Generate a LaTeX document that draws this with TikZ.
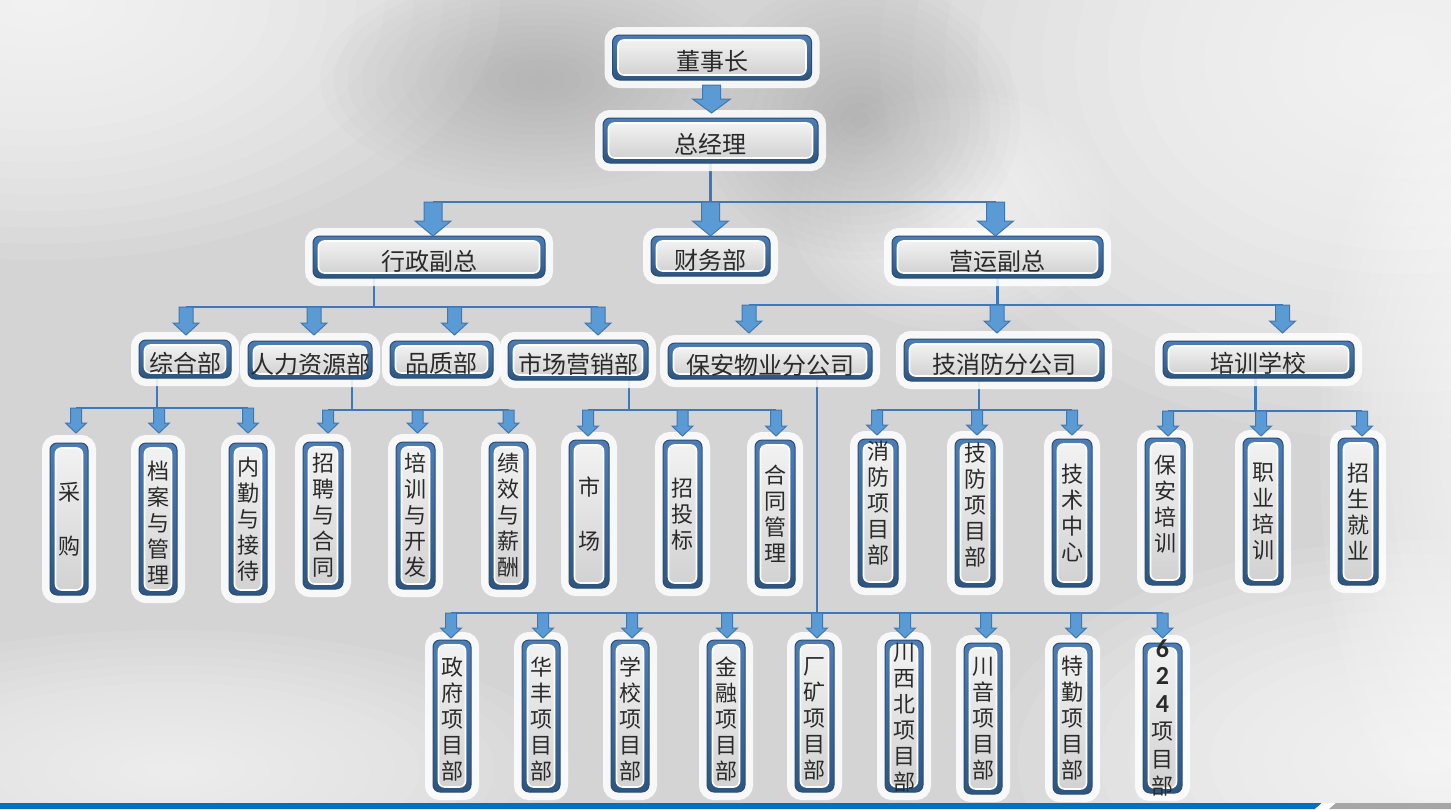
\documentclass[tikz,border=0pt]{standalone}
\usepackage{fontspec}
\setmainfont{Noto Sans CJK SC}
\newfontfamily\digf{Carlito}
\usetikzlibrary{calc}
\definecolor{bgc}{HTML}{D4D4D4}
\definecolor{bluetop}{HTML}{4C7DB6}
\definecolor{bluebot}{HTML}{2D557F}
\definecolor{blueedge}{HTML}{2A4D74}
\definecolor{ibtop}{HTML}{F2F2F2}
\definecolor{ibbot}{HTML}{D2D2D2}
\definecolor{txtc}{HTML}{2A2A2A}
\definecolor{arrf}{HTML}{5B9BD5}
\definecolor{arre}{HTML}{4177B0}
\definecolor{connc}{HTML}{3C78BC}
\definecolor{barblue}{HTML}{0070C0}
\definecolor{bargray}{HTML}{A6A6A6}
\definecolor{darkspot}{HTML}{9A9A9A}
\pgfdeclarelayer{bg}
\pgfdeclarelayer{lines}
\pgfsetlayers{bg,lines,main}
\tikzset{
 obox/.style={rectangle, rounded corners=3.5pt, top color=bluetop, bottom color=bluebot, draw=blueedge, line width=0.5pt, inner sep=0pt, outer sep=0pt, preaction={draw=white, draw opacity=0.85, line width=8pt}},
 ibox/.style={rectangle, rounded corners=3pt, top color=ibtop, bottom color=ibbot, draw=white, line width=0.8pt, inner sep=0pt, outer sep=0pt},
 txt/.style={inner sep=0pt, text=txtc},
 ht/.style={txt, font=\fontsize{12pt}{14pt}\selectfont, yshift=-2pt},
 vt/.style={txt, font=\fontsize{11pt}{13pt}\selectfont, align=center},
 barr/.style={fill=arrf, draw=arre, line width=0.5pt, line join=miter},
 conn/.style={draw=connc, line width=1.1pt},
}
\newcommand\mkbox[7][]{%
  \node[obox, minimum width=#5*0.5pt, minimum height=#6*0.5pt] (#2) at (#3,#4) {};
  \node[ibox, minimum width=(#5-11)*0.5pt, minimum height=(#6-10)*0.5pt] (#2-i) at (#2.center) {};
  \node[#1] (#2-t) at (#2.center) {#7};}
\newcommand\barrow[7]{%
  \coordinate (#1-a) at ($(#1.north)+(#2,-#3-#4)$);
  \path[barr] ($(#1.north)+(#2,-#3)$) -- ++({-#6/2},{-#7}) -- ++({(#6-#5)/2},0) -- ++(0,{#7-#4}) -- ++(#5,0) -- ++(0,{#4-#7}) -- ++({(#6-#5)/2},0) -- cycle;}
\newcommand\mkdrop[3]{%
  \coordinate (#1-d) at ($(#1.south)+(#2,0)$);
  \draw[conn] (#1-d) -- (#1-d |- #3-a);}
\newcommand\softblob[6]{%
  \foreach \k in {1,...,16} {\fill[#5, opacity=#6] (#1,#2) ellipse [x radius={#3*\k/16*1pt}, y radius={#4*\k/16*1pt}];}}
\begin{document}
\begin{tikzpicture}[x=0.5pt,y=-0.5pt]
\useasboundingbox (0,0) rectangle (1451,809);
\begin{pgfonlayer}{bg}
\fill[bgc] (0,0) rectangle (1451,809);
\softblob{40}{0}{230}{130}{white}{0.09}
\softblob{1400}{60}{260}{190}{white}{0.09}
\softblob{1480}{450}{80}{200}{white}{0.08}
\softblob{1430}{760}{220}{110}{white}{0.09}
\softblob{950}{210}{80}{60}{white}{0.07}
\softblob{170}{770}{200}{70}{white}{0.07}
\softblob{860}{120}{80}{70}{darkspot}{0.035}
\softblob{540}{80}{110}{55}{darkspot}{0.03}
\fill[barblue] (0,803) -- (1322,803) -- (1315,809) -- (0,809) -- cycle;
\fill[white] (1322,803) -- (1336,803) -- (1329,809) -- (1315,809) -- cycle;
\fill[bargray] (1336,803) -- (1451,803) -- (1451,809) -- (1329,809) -- cycle;
\end{pgfonlayer}
% level 1-3
\mkbox[ht]{dsz}{712}{57.5}{199}{45}{董事长}
\mkbox[ht]{zjl}{710.5}{140.5}{215}{45}{总经理}
\mkbox[ht]{xz}{429}{257}{232}{42}{行政副总}
\mkbox[ht]{cw}{710.5}{256}{119}{40}{财务部}
\mkbox[ht]{yy}{997.5}{257}{211}{42}{营运副总}
\mkbox[ht]{zh}{185}{359}{92}{38}{综合部}
\mkbox[ht]{rl}{310}{360}{124}{38}{人力资源部}
\mkbox[ht]{pz}{441.5}{359.5}{103}{37}{品质部}
\mkbox[ht]{sc}{578}{360}{140}{40}{市场营销部}
\mkbox[ht]{ba}{770}{361}{204}{36}{保安物业分公司}
\mkbox[ht]{jx}{1004}{360}{200}{42}{技消防分公司}
\mkbox[ht]{px}{1258.5}{359.5}{191}{37}{培训学校}
% level 4
\mkbox[vt]{cg}{69}{519}{38}{152}{采\\[14pt]购}
\mkbox[vt,yshift=-2pt]{da}{158}{519}{38}{152}{档\\案\\与\\管\\理}
\mkbox[vt]{nq}{248}{519}{38}{152}{内\\勤\\与\\接\\待}
\mkbox[vt]{zp}{323}{515.5}{40}{147}{招\\聘\\与\\合\\同}
\mkbox[vt]{pk}{415.5}{515.5}{39}{147}{培\\训\\与\\开\\发}
\mkbox[vt]{jxxc}{508.5}{515.5}{39}{147}{绩\\效\\与\\薪\\酬}
\mkbox[vt]{scc}{589}{514}{40}{148}{市\\[14pt]场}
\mkbox[vt]{ztb}{682.5}{514}{39}{148}{招\\投\\标}
\mkbox[vt]{htgl}{775}{514}{40}{148}{合\\同\\管\\理}
\mkbox[vt,yshift=5pt]{xfb}{878}{513}{40}{148}{消\\防\\项\\目\\部}
\mkbox[vt,yshift=4pt]{jfb}{975}{513}{40}{148}{技\\防\\项\\目\\部}
\mkbox[vt]{jszx}{1072}{513}{40}{148}{技\\术\\中\\心}
\mkbox[vt,yshift=3.5pt]{bapx}{1165}{511.5}{40}{147}{保\\安\\培\\训}
\mkbox[vt]{zypx}{1263}{511.5}{40}{147}{职\\业\\培\\训}
\mkbox[vt]{zsjy}{1358}{511.5}{40}{147}{招\\生\\就\\业}
% bottom row
\mkbox[vt,yshift=-1.5pt]{zf}{452}{716}{38}{152}{政\\府\\项\\目\\部}
\mkbox[vt,yshift=-1.5pt]{hf}{541}{716}{38}{152}{华\\丰\\项\\目\\部}
\mkbox[vt,yshift=-1.5pt]{xx}{630}{716}{38}{152}{学\\校\\项\\目\\部}
\mkbox[vt,yshift=-1.5pt]{jr}{726}{716}{38}{152}{金\\融\\项\\目\\部}
\mkbox[vt,yshift=-1.5pt]{ck}{814.5}{716}{39}{152}{厂\\矿\\项\\目\\部}
\mkbox[vt,yshift=-1pt]{cxb}{904}{716}{38}{152}{川\\西\\北\\项\\目\\部}
\mkbox[vt]{cy}{983}{718.5}{38}{151}{川\\音\\项\\目\\部}
\mkbox[vt]{tq}{1072.5}{718.5}{39}{151}{特\\勤\\项\\目\\部}
\mkbox[vt,font=\fontsize{11pt}{13.7pt}\selectfont]{xlz}{1162.5}{718}{39}{150}{{\digf\bfseries\fontsize{13pt}{13.7pt}\selectfont 6}\\{\digf\bfseries\fontsize{13pt}{13.7pt}\selectfont 2}\\{\digf\bfseries\fontsize{13pt}{13.7pt}\selectfont 4}\\项\\目\\部}
% arrows
\barrow{zjl}{1}{5}{28}{18}{38}{14}
\barrow{xz}{4}{0}{34}{18}{36}{15}
\barrow{cw}{0}{0}{34}{18}{36}{15}
\barrow{yy}{-2}{0}{34}{18}{36}{15}
\barrow{zh}{1}{5}{28}{14}{26}{12}
\barrow{rl}{4}{6}{28}{14}{26}{12}
\barrow{pz}{13}{6}{28}{14}{26}{12}
\barrow{sc}{20}{5}{28}{14}{26}{12}
\barrow{ba}{-21}{10}{28}{14}{26}{12}
\barrow{jx}{-7}{6}{28}{14}{26}{12}
\barrow{px}{24}{8}{28}{14}{26}{12}
\barrow{cg}{7}{10}{25}{11}{21}{10}
\barrow{da}{1}{10}{25}{11}{21}{10}
\barrow{nq}{0}{10}{25}{11}{21}{10}
\barrow{zp}{5}{9}{23}{11}{21}{10}
\barrow{pk}{2}{9}{23}{11}{21}{10}
\barrow{jxxc}{0}{9}{23}{11}{21}{10}
\barrow{scc}{-1}{4}{26}{11}{21}{10}
\barrow{ztb}{0}{4}{26}{11}{21}{10}
\barrow{htgl}{1}{4}{26}{11}{21}{10}
\barrow{xfb}{-1}{4}{25}{11}{21}{10}
\barrow{jfb}{2}{4}{25}{11}{21}{10}
\barrow{jszx}{0}{4}{25}{11}{21}{10}
\barrow{bapx}{3}{2}{25}{11}{21}{10}
\barrow{zypx}{-2}{2}{25}{11}{21}{10}
\barrow{zsjy}{4}{2}{25}{11}{21}{10}
\barrow{zf}{-1}{2}{25}{11}{21}{10}
\barrow{hf}{2}{2}{25}{11}{21}{10}
\barrow{xx}{2}{2}{25}{11}{21}{10}
\barrow{jr}{1}{2}{25}{11}{21}{10}
\barrow{ck}{2.5}{2}{25}{11}{21}{10}
\barrow{cxb}{1}{2}{25}{11}{21}{10}
\barrow{cy}{3}{5}{25}{11}{21}{10}
\barrow{tq}{3.5}{5}{25}{11}{21}{10}
\barrow{xlz}{0}{5}{25}{11}{21}{10}
% connector lines
\begin{pgfonlayer}{lines}
\draw[conn] (zjl.south) -- (zjl.south |- xz-a);
\draw[conn] (xz-a) -- (yy-a);
\mkdrop{xz}{-55}{zh}
\draw[conn] (zh-a) -- (sc-a);
\mkdrop{yy}{0}{ba}
\draw[conn] (ba-a) -- (px-a);
\mkdrop{zh}{-28}{cg}
\draw[conn] (cg-a) -- (nq-a);
\mkdrop{rl}{42}{zp}
\draw[conn] (zp-a) -- (jxxc-a);
\mkdrop{sc}{51}{scc}
\draw[conn] (scc-a) -- (htgl-a);
\mkdrop{jx}{-25}{xfb}
\draw[conn] (xfb-a) -- (jszx-a);
\mkdrop{px}{-3}{bapx}
\draw[conn] (bapx-a) -- (zsjy-a);
\mkdrop{ba}{47}{zf}
\draw[conn] (zf-a) -- (xlz-a);
\end{pgfonlayer}
\end{tikzpicture}
\end{document}
